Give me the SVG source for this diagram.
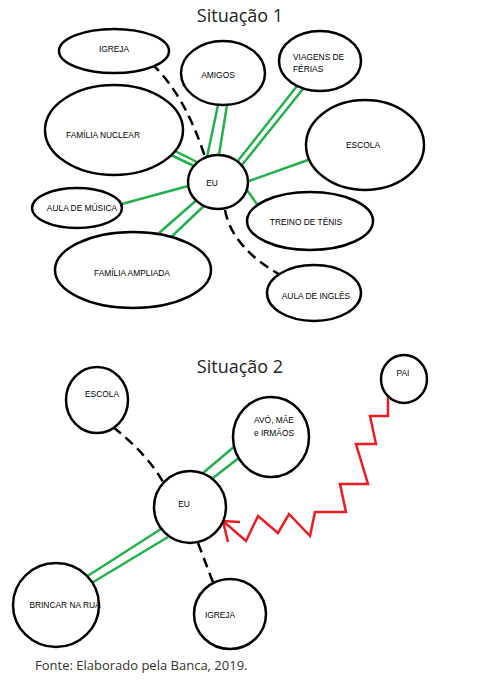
<svg xmlns="http://www.w3.org/2000/svg" width="479" height="680" viewBox="0 0 479 680">
<style>
.n{fill:#fff;stroke:#000;stroke-width:2.5}
.t{font-family:"Liberation Sans",Arial,sans-serif;font-size:8.4px;fill:#000;text-anchor:middle}
.title{font-family:"Open Sans","Liberation Sans",sans-serif;font-size:18px;fill:#222;text-anchor:middle}
.g{stroke:#22b14c;stroke-width:2.5;fill:none}
.d{stroke:#000;stroke-width:2.5;fill:none;stroke-dasharray:10 6}
.r{stroke:#ed1c24;stroke-width:2.5;fill:none;stroke-linejoin:miter}
</style>
<rect width="479" height="680" fill="#fff"/>
<text class="title" x="240" y="22">Situação 1</text>
<text class="title" x="240" y="373">Situação 2</text>

<g id="connectors">
  <path class="d" d="M152,64 Q185,95 205,157"/>
  <path class="g" d="M218,105 L207,157 M227,105 L219,155"/>
  <path class="g" d="M297,86 L237,162 M303,89 L242,165"/>
  <path class="g" d="M308,160 L249,181"/>
  <path class="g" d="M259,207 L247,190"/>
  <path class="g" d="M173,150 L197,162 M171,155 L194,166"/>
  <path class="g" d="M122,204 L188,186"/>
  <path class="g" d="M159,233 L199,198 M169,239 L206,204"/>
  <path class="d" d="M225,210 Q232,248 282,276"/>
  <path class="d" d="M113,427 Q148,455 163,482"/>
  <path class="g" d="M203,473 L235,446 M213,478 L240,457"/>
  <path class="g" d="M86,577 L161,529 M90,584 L168,537"/>
  <path class="d" d="M198,543 L214,585"/>
  <path class="r" d="M388,395 L388,416 L370,416 L376,444 L356,444 L368,484 L340,484 L346,512 L315,512 L310,536 L289,514 L278,533 L258,516 L246,541 L223,521"/>
  <path class="r" d="M240,522 L223,521 L228,542"/>
</g>

<g id="s1-igreja"><ellipse class="n" cx="114" cy="51" rx="55" ry="22"/><text class="t" x="114" y="52">IGREJA</text></g>
<g id="s1-amigos"><ellipse class="n" cx="223" cy="73" rx="42" ry="32"/><text class="t" x="218" y="78">AMIGOS</text></g>
<g id="s1-viagens"><ellipse class="n" cx="320" cy="61" rx="41" ry="30"/><text class="t" x="293" y="60" style="text-anchor:start">VIAGENS DE</text><text class="t" x="293" y="72" style="text-anchor:start">FÉRIAS</text></g>
<g id="s1-escola"><ellipse class="n" cx="365" cy="145" rx="59" ry="45"/><text class="t" x="363" y="148">ESCOLA</text></g>
<g id="s1-familia-nuclear"><ellipse class="n" cx="114" cy="130" rx="69" ry="45"/><text class="t" x="103" y="138">FAMÍLIA NUCLEAR</text></g>
<g id="s1-eu"><ellipse class="n" cx="218" cy="182" rx="30" ry="27"/><text class="t" x="212" y="186">EU</text></g>
<g id="s1-aula-musica"><ellipse class="n" cx="77" cy="208" rx="45" ry="20"/><text class="t" x="82" y="211">AULA DE MÚSICA</text></g>
<g id="s1-familia-ampliada"><ellipse class="n" cx="133" cy="270" rx="78" ry="38"/><text class="t" x="132" y="276">FAMÍLIA AMPLIADA</text></g>
<g id="s1-treino"><ellipse class="n" cx="310" cy="221" rx="63" ry="29"/><text class="t" x="306" y="225">TREINO DE TÊNIS</text></g>
<g id="s1-aula-ingles"><ellipse class="n" cx="314" cy="293" rx="47" ry="28"/><text class="t" x="316" y="299">AULA DE INGLÊS</text></g>

<g id="s2-escola"><ellipse class="n" cx="97" cy="400" rx="31" ry="33"/><text class="t" x="102" y="397">ESCOLA</text></g>
<g id="s2-eu"><ellipse class="n" cx="190" cy="507" rx="36" ry="36"/><text class="t" x="184" y="507">EU</text></g>
<g id="s2-avo"><ellipse class="n" cx="271" cy="437" rx="38" ry="40"/><text class="t" x="274" y="423">AVÓ, MÃE</text><text class="t" x="274" y="436">e IRMÃOS</text></g>
<g id="s2-pai"><ellipse class="n" cx="404" cy="379" rx="23" ry="24"/><text class="t" x="403" y="376">PAI</text></g>
<g id="s2-brincar"><ellipse class="n" cx="56" cy="605" rx="43" ry="42"/><text class="t" x="65" y="608">BRINCAR NA RUA</text></g>
<g id="s2-igreja"><ellipse class="n" cx="230" cy="614" rx="36" ry="35"/><text class="t" x="220" y="618">IGREJA</text></g>

<text x="35" y="670" style="font-family:'Open Sans','Liberation Sans',sans-serif;font-size:13px;fill:#333">Fonte: Elaborado pela Banca, 2019.</text>
</svg>
